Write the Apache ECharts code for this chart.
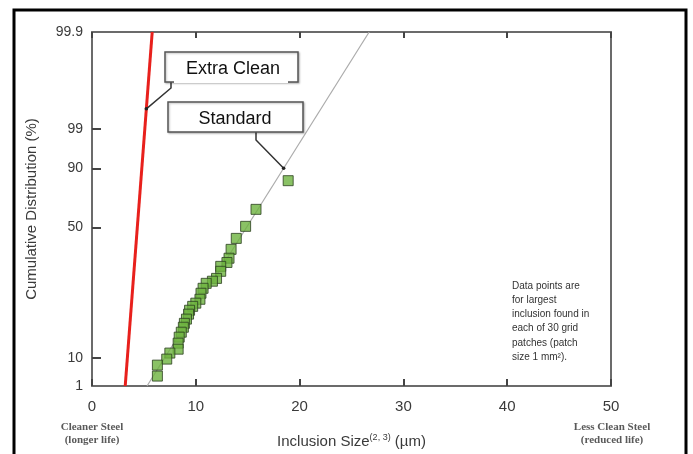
<!DOCTYPE html>
<html><head><meta charset="utf-8">
<script src="https://cdn.jsdelivr.net/npm/echarts@6/dist/echarts.min.js"></script>
<style>html,body{margin:0;padding:0;background:#fff}#c{width:693px;height:454px}</style>
</head><body><div id="c"></div>
<script>
// x axis (inclusion size, µm)
const xMin = 0, xMax = 50, xStep = 10;
// y axis: probability paper position (0 = bottom, 100 = top) and its tick labels (%)
const yTickLabels = ['1', '10', '50', '90', '99', '99.9'];
const yTickPos = [0, 7.9, 44.8, 61.5, 72.7, 100];
// Standard steel: largest inclusion per grid patch (size µm, paper position)
const standardSize = [18.9, 15.8, 14.8, 13.9, 13.4, 13.2, 13.0, 12.4, 12.4, 12.0, 11.6, 11.0, 10.7, 10.5, 10.4,
                      10.0, 9.7, 9.4, 9.3, 9.1, 8.9, 8.8, 8.6, 8.4, 8.3, 8.3, 7.5, 7.2, 6.3, 6.3];
const standardPos  = [58.0, 49.9, 45.1, 41.7, 38.6, 36.1, 34.9, 33.8, 32.4, 30.4, 29.6, 29.0, 27.6, 26.2, 24.5,
                      23.4, 22.5, 21.4, 20.3, 18.9, 17.7, 16.6, 15.2, 13.8, 12.1, 10.4, 9.3, 7.6, 5.9, 2.8];
// fitted lines (size µm at bottom/top, paper position)
const standardFitSize = [5.3, 26.7];
const standardFitPos = [0, 100];
const extraCleanSize = [3.2, 5.8];
const extraCleanPos = [0, 100];
// callout anchor points on the lines (paper position)
const extraCleanAnchorPos = 78.3;
const standardAnchorPos = 61.5;
const noteLines = ['Data points are', 'for largest', 'inclusion found in', 'each of 30 grid', 'patches (patch', 'size 1 mm\u00b2).'];

const zip = (a, b) => a.map((v, i) => [v, b[i]]);
const chart = echarts.init(document.getElementById('c'));
const axisGray = '#6b6b6b';
const labelFont = 'Liberation Sans, Arial, sans-serif';

chart.setOption({
  animation: false,
  backgroundColor: '#fff',
  grid: { left: 92, right: 82, top: 32, bottom: 67 },
  xAxis: [{
    type: 'value', min: xMin, max: xMax, interval: xStep, position: 'bottom',
    splitLine: { show: false },
    axisLine: { show: true, onZero: false, lineStyle: { color: axisGray, width: 2 } },
    axisTick: { show: true, inside: true, length: 7, lineStyle: { color: '#444', width: 2 } },
    axisLabel: { color: '#3a3a3a', fontSize: 15, fontFamily: labelFont, margin: 13,
      formatter: v => String(v) },
    name: '{a|Inclusion Size}{s|(2, 3)}{a| (\u00b5m)}', nameLocation: 'middle', nameGap: 47,
    nameTextStyle: { rich: {
      a: { fontSize: 15, color: '#3a3a3a', fontFamily: labelFont },
      s: { fontSize: 9, color: '#3a3a3a', fontFamily: labelFont, verticalAlign: 'top', padding: [0, 0, 8, 0] }
    } }
  }, {
    type: 'value', min: xMin, max: xMax, interval: xStep, position: 'top',
    splitLine: { show: false },
    axisLine: { show: true, onZero: false, lineStyle: { color: axisGray, width: 2 } },
    axisTick: { show: true, inside: true, length: 6, lineStyle: { color: '#444', width: 2 } },
    axisLabel: { show: false }
  }],
  yAxis: [{
    type: 'value', min: 0, max: 100, position: 'left',
    splitLine: { show: false },
    axisLine: { show: true, onZero: false, lineStyle: { color: axisGray, width: 2 } },
    axisTick: { show: true, inside: true, length: 9, lineStyle: { color: '#444', width: 2 },
      customValues: yTickPos.slice(1, -1) },
    axisLabel: { color: '#3a3a3a', fontSize: 14, fontFamily: labelFont, margin: 9,
      customValues: yTickPos,
      formatter: v => { const i = yTickPos.indexOf(v); return i >= 0 ? yTickLabels[i] : ''; } },
    name: 'Cumulative Distribution (%)', nameLocation: 'middle', nameGap: 53,
    nameTextStyle: { fontSize: 15, color: '#3a3a3a', fontFamily: labelFont }
  }, {
    type: 'value', min: 0, max: 100, position: 'right',
    splitLine: { show: false },
    axisLine: { show: true, onZero: false, lineStyle: { color: axisGray, width: 2 } },
    axisTick: { show: false }, axisLabel: { show: false }
  }],
  series: [{
    type: 'line', data: zip(extraCleanSize, extraCleanPos), symbol: 'none',
    lineStyle: { color: '#e8201c', width: 3 }, z: 3
  }, {
    type: 'line', data: zip(standardFitSize, standardFitPos), symbol: 'none',
    lineStyle: { color: '#ababab', width: 1.2 }, z: 2
  }, {
    type: 'scatter', data: zip(standardSize, standardPos), symbol: 'rect', symbolSize: 10,
    itemStyle: { color: '#6db33f', borderColor: '#2b3f1f', borderWidth: 1 }, z: 4
  }]
});

const pEC = chart.convertToPixel({ gridIndex: 0 },
  [extraCleanSize[0] + (extraCleanSize[1] - extraCleanSize[0]) * (extraCleanAnchorPos - extraCleanPos[0]) / (extraCleanPos[1] - extraCleanPos[0]), extraCleanAnchorPos]);
const pST = chart.convertToPixel({ gridIndex: 0 },
  [standardFitSize[0] + (standardFitSize[1] - standardFitSize[0]) * (standardAnchorPos - standardFitPos[0]) / (standardFitPos[1] - standardFitPos[0]), standardAnchorPos]);

const boxStyle = { fill: '#fff', stroke: '#555', lineWidth: 1.5, shadowColor: 'rgba(0,0,0,0.25)', shadowBlur: 2, shadowOffsetX: 1, shadowOffsetY: 1 };
const boxFont = '18px "Liberation Sans", Arial, sans-serif';
const smallFont = 'bold 11px "Liberation Serif", "DejaVu Serif", serif';

chart.setOption({
  graphic: [
    { type: 'rect', shape: { x: 14, y: 10, width: 672, height: 460 }, style: { fill: 'none', stroke: '#000', lineWidth: 3 }, z: 1, silent: true },
    // Extra Clean callout
    { type: 'polyline', shape: { points: [[171, 82], [171, 88], pEC] }, style: { stroke: '#333', lineWidth: 1.5, fill: 'none' }, z: 10 },
    { type: 'circle', shape: { cx: pEC[0], cy: pEC[1], r: 1.8 }, style: { fill: '#222' }, z: 11 },
    { type: 'rect', shape: { x: 165, y: 52, width: 133, height: 30 }, style: boxStyle, z: 10 },
    { type: 'text', x: 233, y: 69, style: { text: 'Extra Clean', font: boxFont, fill: '#111', align: 'center', verticalAlign: 'middle' }, z: 11 },
    { type: 'rect', shape: { x: 174, y: 74, width: 114, height: 9 }, style: { fill: '#fff' }, z: 12 },
    // Standard callout
    { type: 'polyline', shape: { points: [[256, 132], [256, 140], pST] }, style: { stroke: '#333', lineWidth: 1.5, fill: 'none' }, z: 10 },
    { type: 'circle', shape: { cx: pST[0], cy: pST[1], r: 1.8 }, style: { fill: '#222' }, z: 11 },
    { type: 'rect', shape: { x: 168, y: 102, width: 135, height: 30 }, style: boxStyle, z: 10 },
    { type: 'text', x: 235, y: 119, style: { text: 'Standard', font: boxFont, fill: '#111', align: 'center', verticalAlign: 'middle' }, z: 11 },
    // note
    { type: 'text', x: 512, y: 279, style: { text: noteLines.join('\n'), font: '10px "Liberation Sans", Arial, sans-serif', lineHeight: 14.2, fill: '#333', align: 'left', verticalAlign: 'top' }, z: 10 },
    // axis end captions
    { type: 'text', x: 92, y: 434, style: { text: 'Cleaner Steel\n(longer life)', font: smallFont, lineHeight: 13, fill: '#5a5a5a', align: 'center', verticalAlign: 'middle' }, z: 10 },
    { type: 'text', x: 612, y: 434, style: { text: 'Less Clean Steel\n(reduced life)', font: smallFont, lineHeight: 13, fill: '#5a5a5a', align: 'center', verticalAlign: 'middle' }, z: 10 }
  ]
});
</script></body></html>
